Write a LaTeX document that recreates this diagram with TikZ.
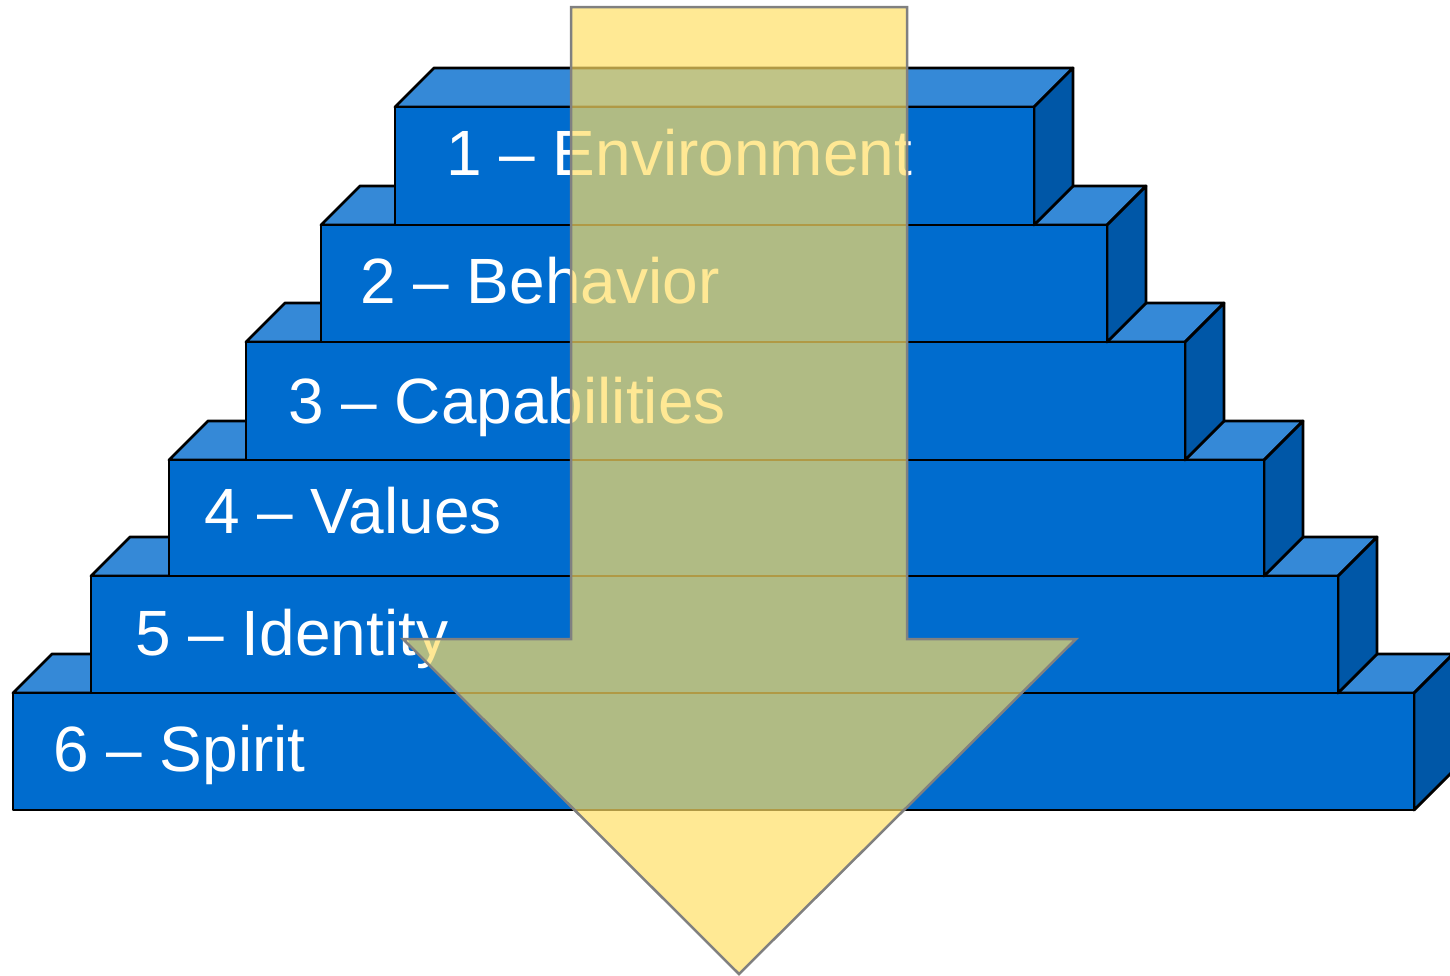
\documentclass[tikz,border=0pt]{standalone}
\usepackage{fontspec}
\setmainfont{Liberation Sans}
\definecolor{frontblue}{RGB}{0,108,206}
\definecolor{topblue}{RGB}{53,137,215}
\definecolor{sideblue}{RGB}{0,87,167}
\definecolor{arrowyellow}{RGB}{255,223,100}
\definecolor{arrowedge}{RGB}{128,128,128}
\tikzset{
  edge/.style={draw=black, line width=2.8pt, line join=round},
  frontface/.style={edge, fill=frontblue},
  topface/.style={edge, fill=topblue},
  sideface/.style={edge, fill=sideblue},
  label/.style={text=white, anchor=base west, inner sep=0pt, font=\fontsize{64}{72}\selectfont},
  bigarrow/.style={fill=arrowyellow, fill opacity=0.69, draw=arrowedge, draw opacity=1, line width=2.5pt, line join=miter}
}
% #1 left, #2 top, #3 right, #4 bottom of the front face
\newcommand{\stepblock}[4]{%
  \path[topface] (#1,#2) -- (#1+39,#2-39) -- (#3+39,#2-39) -- (#3,#2) -- cycle;
  \path[sideface] (#3,#2) -- (#3+39,#2-39) -- (#3+39,#4-39) -- (#3,#4) -- cycle;
  \path[frontface] (#1,#2) rectangle (#3,#4);
}
\begin{document}
\begin{tikzpicture}[x=1pt, y=-1pt]
  \useasboundingbox (0,0) rectangle (1450,975);
  \stepblock{13}{693}{1414}{810}
  \stepblock{91}{576}{1338}{693}
  \stepblock{169}{460}{1264}{576}
  \stepblock{246}{342}{1185}{460}
  \stepblock{321}{225}{1107}{342}
  \stepblock{395}{107}{1034}{225}
  \node[label] (l1) at (446,175) {1 – Environment};
  \node[label] (l2) at (360,303) {2 – Behavior};
  \node[label] (l3) at (288,423) {3 – Capabilities};
  \node[label] (l4) at (204,533) {4 – Values};
  \node[label] (l5) at (135,655) {5 – Identity};
  \node[label] (l6) at (53,771) {6 – Spirit};
  \path[bigarrow] (571,7) -- (907,7) -- (907,639) -- (1076,639) -- (739,974) -- (403,639) -- (571,639) -- cycle;
\end{tikzpicture}
\end{document}
